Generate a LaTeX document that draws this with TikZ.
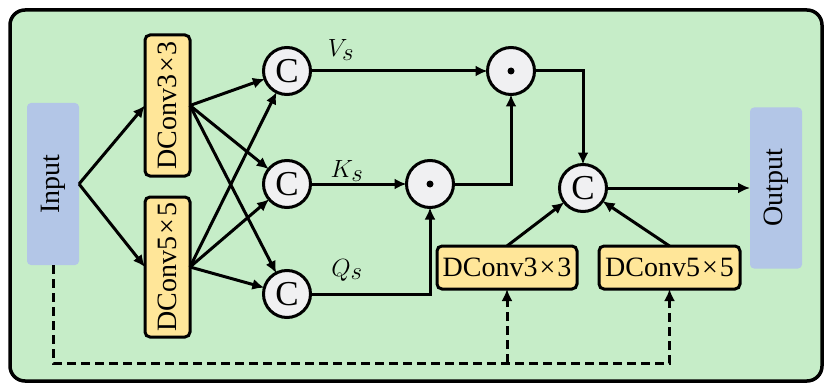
\documentclass[tikz,border=0pt]{standalone}
\usepackage{fontspec}
\setmainfont{Liberation Serif}
\usetikzlibrary{arrows.meta}
\definecolor{bggreen}{HTML}{C6EDC8}
\definecolor{inblue}{HTML}{B3C6E7}
\definecolor{convy}{HTML}{FFE699}
\definecolor{circg}{HTML}{F0F0F2}
\newcommand{\tms}{\kern0.07em×\kern0.07em}
\begin{document}
\begin{tikzpicture}[x=1pt,y=-1pt,
  every node/.style={inner sep=0pt,outer sep=0pt},
  iobox/.style={fill=inblue,rounded corners=4pt,minimum width=52pt,minimum height=162pt,
    font=\fontsize{28}{30}\selectfont},
  convv/.style={draw,line width=3pt,fill=convy,rounded corners=5pt,minimum width=45pt,minimum height=141pt,
    font=\fontsize{28}{30}\selectfont},
  convh/.style={draw,line width=3pt,fill=convy,rounded corners=5pt,minimum width=140pt,minimum height=43pt,
    font=\fontsize{28}{30}\selectfont},
  opc/.style={circle,draw,line width=3pt,fill=circg,minimum size=47pt,
    font=\fontsize{35}{36}\selectfont},
  lbl/.style={font=\fontsize{33}{34}\selectfont},
  arr/.style={line width=3pt,-{Latex[length=12pt,width=11pt]}},
  dsh/.style={line width=3pt,dash pattern=on 9pt off 5pt,-{Latex[length=12pt,width=11pt]}}
]
\useasboundingbox (0,0) rectangle (827,385);
\draw[line width=3.5pt,fill=bggreen,rounded corners=15pt] (10,10) rectangle (822,381);

\node[iobox] (in) at (53,184) {\rotatebox{90}{Input}};
\node[iobox,minimum height=161pt] (out) at (776,188) {\rotatebox{90}{Output}};

\node[convv] (da) at (167.5,105.5) {\rotatebox{90}{DConv3\tms3}};
\node[convv,minimum height=140pt] (db) at (167.5,267) {\rotatebox{90}{DConv5\tms5}};

\node[opc] (c1) at (287,71) {C};
\node[opc] (c2) at (287,184) {C};
\node[opc] (c3) at (287,294) {C};
\node[opc] (o1) at (511,71) {};
\node[opc] (o2) at (430,184) {};
\fill (o1.center) circle (3.5pt);
\fill (o2.center) circle (3.5pt);
\node[opc] (c4) at (583,188) {C};

\node[convh] (d3) at (507,267.5) {DConv3\tms3};
\node[convh,minimum width=141pt] (d5) at (669.5,267.5) {DConv5\tms5};

\node[lbl] (vs) at (341,50) {$V_s$};
\node[lbl] (ks) at (347,171) {$K_s$};
\node[lbl] (qs) at (347,270) {$Q_s$};

\draw[arr] (in.east) -- (da.west);
\draw[arr] (in.east) -- (db.west);
\foreach \c in {c1,c2,c3}{
  \draw[arr] (da.east) -- (\c);
  \draw[arr] (db.east) -- (\c);
}
\draw[arr] (c1) -- (o1);
\draw[arr] (c2) -- (o2);
\draw[arr] (c3) -| (o2);
\draw[arr] (o2) -| (o1);
\draw[arr] (o1) -| (c4);
\draw[arr] (d3.north) -- (c4);
\draw[arr] (d5.north) -- (c4);
\draw[arr] (c4) -- (out);

\coordinate (jn) at (507,363);
\draw[dsh] (in.south) |- (jn) -| (d5.south);
\draw[dsh] (jn) -- (d3.south);
\end{tikzpicture}
\end{document}
